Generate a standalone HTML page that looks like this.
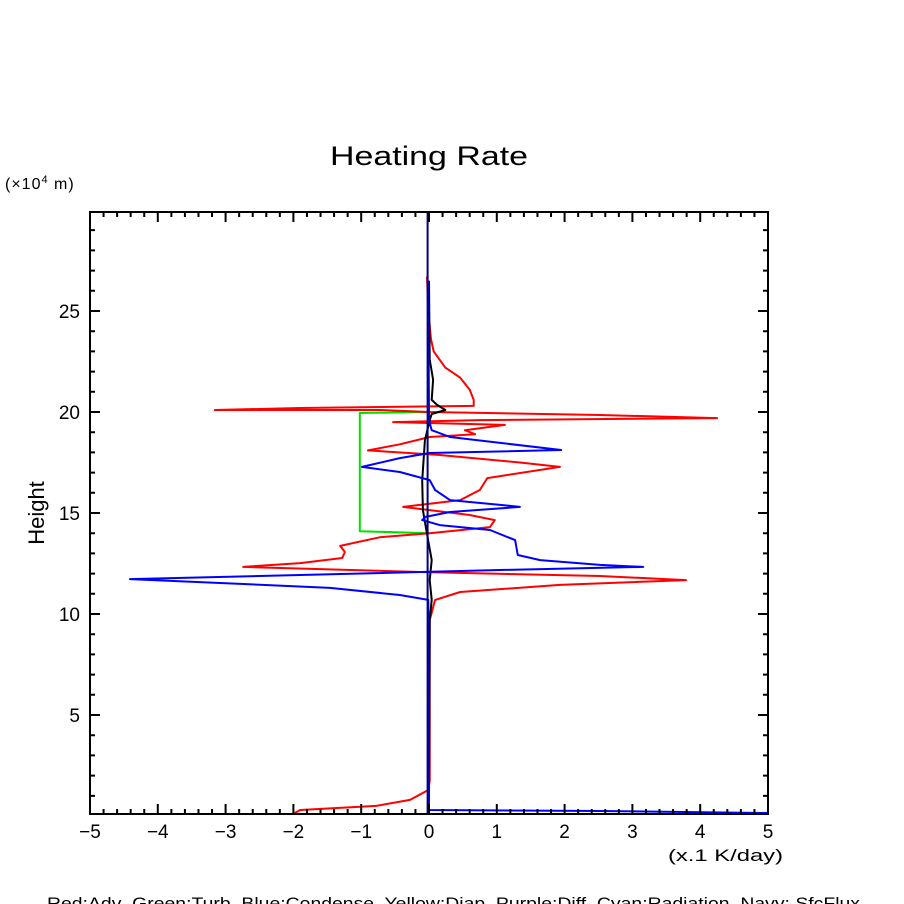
<!DOCTYPE html>
<html><head><meta charset="utf-8"><style>
html,body{margin:0;padding:0;background:#fff;}
svg{display:block;font-family:"Liberation Sans",sans-serif;}
</style></head><body>
<svg id="chart" width="904" height="904" viewBox="0 0 904 904">
<text x="330" y="165" font-size="27" textLength="198" lengthAdjust="spacingAndGlyphs">Heating Rate</text>
<text x="5" y="189" font-size="16" letter-spacing="1">(×10<tspan dy="-6" font-size="11">4</tspan><tspan dy="6"> m)</tspan></text>
<text x="44" y="513" font-size="22" text-anchor="middle" transform="rotate(-90 44 513)">Height</text>
<text x="668" y="861" font-size="17" textLength="115" lengthAdjust="spacingAndGlyphs">(x.1 K/day)</text>
<text x="47" y="909" font-size="17" textLength="813" lengthAdjust="spacingAndGlyphs" xml:space="preserve">Red:Adv  Green:Turb  Blue:Condense  Yellow:Diap  Purple:Diff  Cyan:Radiation  Navy: SfcFlux</text>
<g id="marks"></g>
<g id="axes"></g>
</svg>
<script>
const xTicks=[-5,-4,-3,-2,-1,0,1,2,3,4,5];
const xTickLabels=["−5","−4","−3","−2","−1","0","1","2","3","4","5"];
const yTicks=[5,10,15,20,25];
const yTickLabels=["5","10","15","20","25"];
const redX=[-0.03,-0.01,0.03,0.07,0.24,0.46,0.6,0.66,0.66,-1.9,-3.16,-0.72,0,2.52,4.25,0.75,-0.53,1.12,0.53,0.68,0.01,-0.43,-0.9,0.16,1.34,1.93,0.86,0.75,0.46,-0.38,0.6,0.97,0.9,0.01,-0.72,-1.31,-1.24,-1.28,-1.9,-2.74,-0.13,2.52,3.79,1.93,0.46,0.09,0.01,0.01,0.01,-0.01,-0.28,-0.78,-1.9,-1.98];
const redY=[26.7,25.0,23.6,23.0,22.2,21.7,21.1,20.6,20.3,20.2,20.1,20.1,20.0,19.85,19.7,19.6,19.5,19.36,19.1,18.9,18.76,18.4,18.1,17.87,17.5,17.28,16.73,16.14,15.64,15.3,14.9,14.65,14.3,14.0,13.8,13.37,13.07,12.77,12.52,12.33,12.08,11.88,11.68,11.44,11.09,10.7,9.7,5.74,1.78,1.29,0.8,0.5,0.3,0.15];
const blueX=[-0.01,0,0.04,0.31,1.05,1.95,0.01,-0.43,-0.99,-0.43,0.01,0.09,0.31,1.05,1.34,0.31,-0.06,-0.1,0.16,0.9,1.27,1.31,1.64,2.52,3.16,1.05,-1.9,-4.41,-3.38,-1.46,-0.43,-0.01,0,2.52,5];
const blueY=[26.5,19.6,19.1,18.76,18.47,18.12,17.97,17.72,17.28,17.03,16.63,16.14,15.64,15.4,15.3,15.05,14.8,14.65,14.4,14.16,13.66,12.92,12.67,12.43,12.33,12.18,11.93,11.73,11.58,11.29,10.94,10.7,0.3,0.25,0.15];
const blackX=[0,0.01,0.06,0.04,0.12,0.24,0.04,0.01,-0.06,-0.1,-0.09,-0.04,0.04,0.01,0.04,0.01,0];
const blackY=[26.5,22.6,21.6,20.6,20.35,20.1,19.9,19.6,18.6,16.6,15.15,14.16,12.67,11.68,10.7,9.7,0.8];
const greenX=[0,-1.02,-1.02,0];
const greenY=[20.0,19.95,14.1,14.0];
const navyX=[-0.02,-0.02];
const navyY=[0.1,29.9];

const L=90,R=768,T=212,B=814,xMin=-5,xMax=5,yMin=0.1,yMax=29.9;
const sx=v=>L+(v-xMin)/(xMax-xMin)*(R-L);
const sy=v=>B-(v-yMin)/(yMax-yMin)*(B-T);
const NS="http://www.w3.org/2000/svg";
const marks=document.getElementById('marks'),axes=document.getElementById('axes');
function mk(tag,attrs,parent){const e=document.createElementNS(NS,tag);for(const k in attrs)e.setAttribute(k,attrs[k]);parent.appendChild(e);return e;}
function series(xs,ys,color,name,w){
  const d=xs.map((x,i)=>(i?'L':'M')+sx(x).toFixed(1)+' '+sy(ys[i]).toFixed(1)).join(' ');
  const p=mk('path',{d:d,fill:'none',stroke:color,'stroke-width':w||2,'stroke-linejoin':'round'},marks);
  
  
}
series(greenX,greenY,'#00e000','turb-line');
series(redX,redY,'#ff0000','adv-line');
series(blackX,blackY,'#000000','total-line');
series(blueX,blueY,'#0000ff','condense-line');
series(navyX,navyY,'#000080','sfcflux-line',2);

const frame=mk('rect',{x:L,y:T,width:R-L,height:B-T,fill:'none',stroke:'#000','stroke-width':2},axes);


let td='';
for(let v=-5;v<=5.001;v+=0.2){const x=sx(v);const major=Math.abs(v-Math.round(v))<0.01;const h=major?10:5;td+=`M${x} ${B}V${B-h}M${x} ${T}V${T+h}`;}
for(let v=1;v<=29;v++){const y=sy(v);const h=v%5===0?10:5;td+=`M${L} ${y}H${L+h}M${R} ${y}H${R-h}`;}
const ticks=mk('path',{d:td,stroke:'#000','stroke-width':2,fill:'none'},axes);


xTicks.forEach((v,i)=>{const t=mk('text',{x:sx(v),y:838,'font-size':19,'text-anchor':'middle'},axes);t.textContent=xTickLabels[i];
  
  });
yTicks.forEach((v,i)=>{const t=mk('text',{x:80,y:sy(v)+7,'font-size':19,'text-anchor':'end'},axes);t.textContent=yTickLabels[i];
  
  });
</script>
</body></html>
